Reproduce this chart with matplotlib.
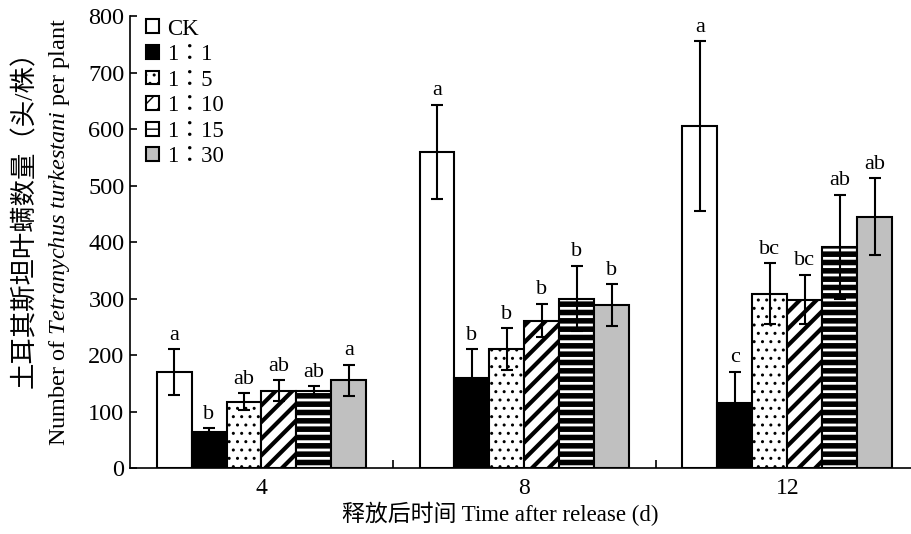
import matplotlib
matplotlib.use("Agg")
import matplotlib.pyplot as plt
import numpy as np

days = ["4", "8", "12"]
treatments = ["CK", "1：1", "1：5", "1：10", "1：15", "1：30"]
means = {
    "CK":   [170, 560, 605],
    "1：1":  [63, 160, 115],
    "1：5":  [117, 210, 308],
    "1：10": [137, 261, 298],
    "1：15": [137, 300, 392],
    "1：30": [155, 288, 445],
}
errs = {
    "CK":   [40, 83, 150],
    "1：1":  [7, 50, 55],
    "1：5":  [15, 37, 54],
    "1：10": [18, 30, 44],
    "1：15": [8, 58, 92],
    "1：30": [28, 37, 68],
}
letters = {
    "CK":   ["a", "a", "a"],
    "1：1":  ["b", "b", "c"],
    "1：5":  ["ab", "b", "bc"],
    "1：10": ["ab", "b", "bc"],
    "1：15": ["ab", "b", "ab"],
    "1：30": ["a", "b", "ab"],
}

plt.rcParams['font.family'] = ['Liberation Serif', 'Noto Sans CJK SC']
plt.rcParams['mathtext.fontset'] = 'custom'
plt.rcParams['mathtext.it'] = 'Liberation Serif:italic'
plt.rcParams['mathtext.rm'] = 'Liberation Serif'

styles = {
    "CK":   dict(color="white", hatch=None, hlw=1),
    "1：1":  dict(color="black", hatch=None, hlw=1),
    "1：5":  dict(color="white", hatch="..", hlw=1),
    "1：10": dict(color="white", hatch="//", hlw=3),
    "1：15": dict(color="white", hatch="--", hlw=4),
    "1：30": dict(color="#c0c0c0", hatch=None, hlw=1),
}

fig = plt.figure(figsize=(9.11, 5.34), dpi=100)
ax = fig.add_axes([0.1427, 0.1236, 0.8573, 0.8464])

x = np.arange(len(days))
n = len(treatments)
w = 0.133
for i, t in enumerate(treatments):
    st = styles[t]
    pos = x + (i - (n - 1) / 2) * w
    with plt.rc_context({'hatch.linewidth': st['hlw'], 'hatch.color': 'black'}):
        ax.bar(pos, means[t], width=w, color=st['color'], edgecolor='black',
               linewidth=1.5, hatch=st['hatch'], label=t, zorder=2)
    ax.errorbar(pos, means[t], yerr=errs[t], fmt='none', ecolor='black',
                elinewidth=1.5, capsize=4, capthick=1.5, zorder=3)
    for p, m, e, l in zip(pos, means[t], errs[t], letters[t]):
        ax.text(p, m + e + 8, l, ha='center', va='bottom', fontsize=16)

ax.set_xlim(-0.5, 2.47)
ax.set_ylim(0, 800)
ax.set_yticks(np.arange(0, 801, 100))
ax.set_xticks(x)
ax.set_xticklabels(days, fontsize=17)
ax.set_xticks([0.5, 1.5], minor=True)
ax.tick_params(axis='x', which='major', length=0, pad=7)
ax.tick_params(axis='x', which='minor', direction='in', length=6, width=1.2)
ax.tick_params(axis='y', direction='in', length=5, width=1.2, labelsize=17.5, pad=4)
for s in ['top', 'right']:
    ax.spines[s].set_visible(False)
for s in ['left', 'bottom']:
    ax.spines[s].set_linewidth(1.2)

ax.set_xlabel("释放后时间 Time after release (d)", fontsize=16.5, labelpad=2)
ax.xaxis.set_label_coords(0.474, -0.075)

fig.text(25 / 911, 1 - 213 / 534, "土耳其斯坦叶螨数量（头/株）", rotation=90,
         ha='center', va='center', fontsize=19)
fig.text(60 / 911, 1 - 232 / 534,
         "Number of $\\mathit{Tetranychus\\ turkestani}$ per plant", rotation=90,
         ha='center', va='center', fontsize=17.5)

leg = ax.legend(loc='upper left', bbox_to_anchor=(0.0, 1.03), frameon=False,
                prop={'family': ['Liberation Serif', 'Noto Sans CJK TC'], 'size': 16.5},
                handlelength=0.55, handleheight=0.55,
                handletextpad=0.35, labelspacing=0.2, borderaxespad=0.3)

fig.savefig("out.png", dpi=100)
